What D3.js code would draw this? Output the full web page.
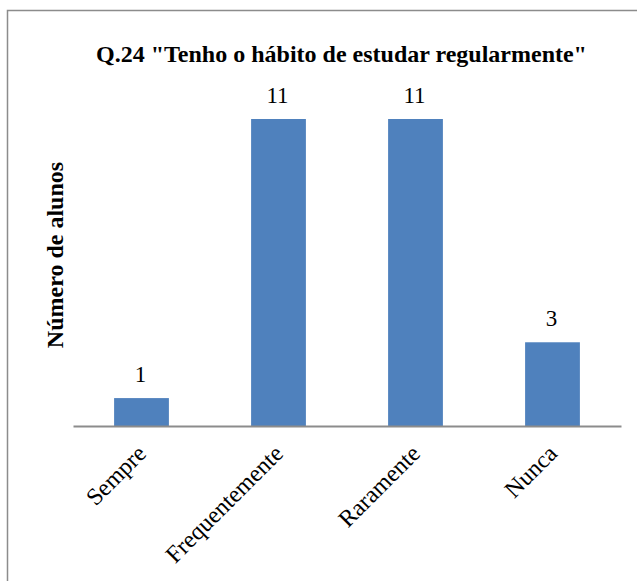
<!DOCTYPE html>
<html>
<head>
<meta charset="utf-8">
<script src="https://cdn.jsdelivr.net/npm/d3@7"></script>
<style>
  html, body { margin: 0; padding: 0; background: #fff; }
  svg { display: block; }
</style>
</head>
<body>
<svg id="chart" width="637" height="581"></svg>
<script>
// Answers to question 24
const categories = ["Sempre", "Frequentemente", "Raramente", "Nunca"];
const values = [1, 11, 11, 3];
const chartTitle = 'Q.24 "Tenho o hábito de estudar regularmente"';
const yTitle = "Número de alunos";

const FONT = "'Liberation Serif'";
const svg = d3.select("#chart");
const W = 637, H = 581;

// Outer frame
svg.append("rect")
  .attr("x", 7.5).attr("y", 10.5)
  .attr("width", W).attr("height", H)
  .attr("fill", "#fff")
  .attr("stroke", "#8c8c8c").attr("stroke-width", 1.5);

const plot = { left: 73, right: 621, top: 119, bottom: 426 };

const x = d3.scaleBand()
  .domain(categories)
  .range([plot.left, plot.right])
  .paddingInner(0.6)
  .paddingOuter(0.3);

const y = d3.scaleLinear()
  .domain([0, 11])
  .range([plot.bottom, plot.top]);

// Bars
svg.append("g").selectAll("rect")
  .data(categories)
  .join("rect")
  .attr("x", d => x(d))
  .attr("y", (d, i) => y(values[i]))
  .attr("width", x.bandwidth())
  .attr("height", (d, i) => y(0) - y(values[i]))
  .attr("fill", "#4F81BD");

// Value labels
svg.append("g").selectAll("text")
  .data(categories)
  .join("text")
  .attr("x", d => x(d) + x.bandwidth() / 2 - 1)
  .attr("y", (d, i) => y(values[i]) - 16)
  .attr("text-anchor", "middle")
  .attr("font-family", FONT)
  .attr("font-size", 23)
  .attr("fill", "#000")
  .text((d, i) => values[i]);

// Category axis
const xAxis = svg.append("g")
  .attr("transform", `translate(0,${plot.bottom})`)
  .call(d3.axisBottom(x).tickSize(0).tickSizeOuter(0))
  .attr("font-family", FONT)
  .attr("font-size", 24);
xAxis.select(".domain")
  .attr("stroke", "#8c8c8c").attr("stroke-width", 2);
xAxis.selectAll(".tick text")
  .attr("text-anchor", "end")
  .attr("dy", null)
  .attr("y", 0)
  .attr("transform", "translate(6,29) rotate(-45)")
  .attr("fill", "#000");

// Title
svg.append("text")
  .attr("x", 341.5).attr("y", 62)
  .attr("text-anchor", "middle")
  .attr("font-family", FONT)
  .attr("font-size", 24)
  .attr("font-weight", "bold")
  .attr("fill", "#000")
  .text(chartTitle);

// Y axis title
svg.append("text")
  .attr("transform", "translate(63,255) rotate(-90)")
  .attr("text-anchor", "middle")
  .attr("font-family", FONT)
  .attr("font-size", 24)
  .attr("font-weight", "bold")
  .attr("fill", "#000")
  .text(yTitle);
</script>
</body>
</html>
